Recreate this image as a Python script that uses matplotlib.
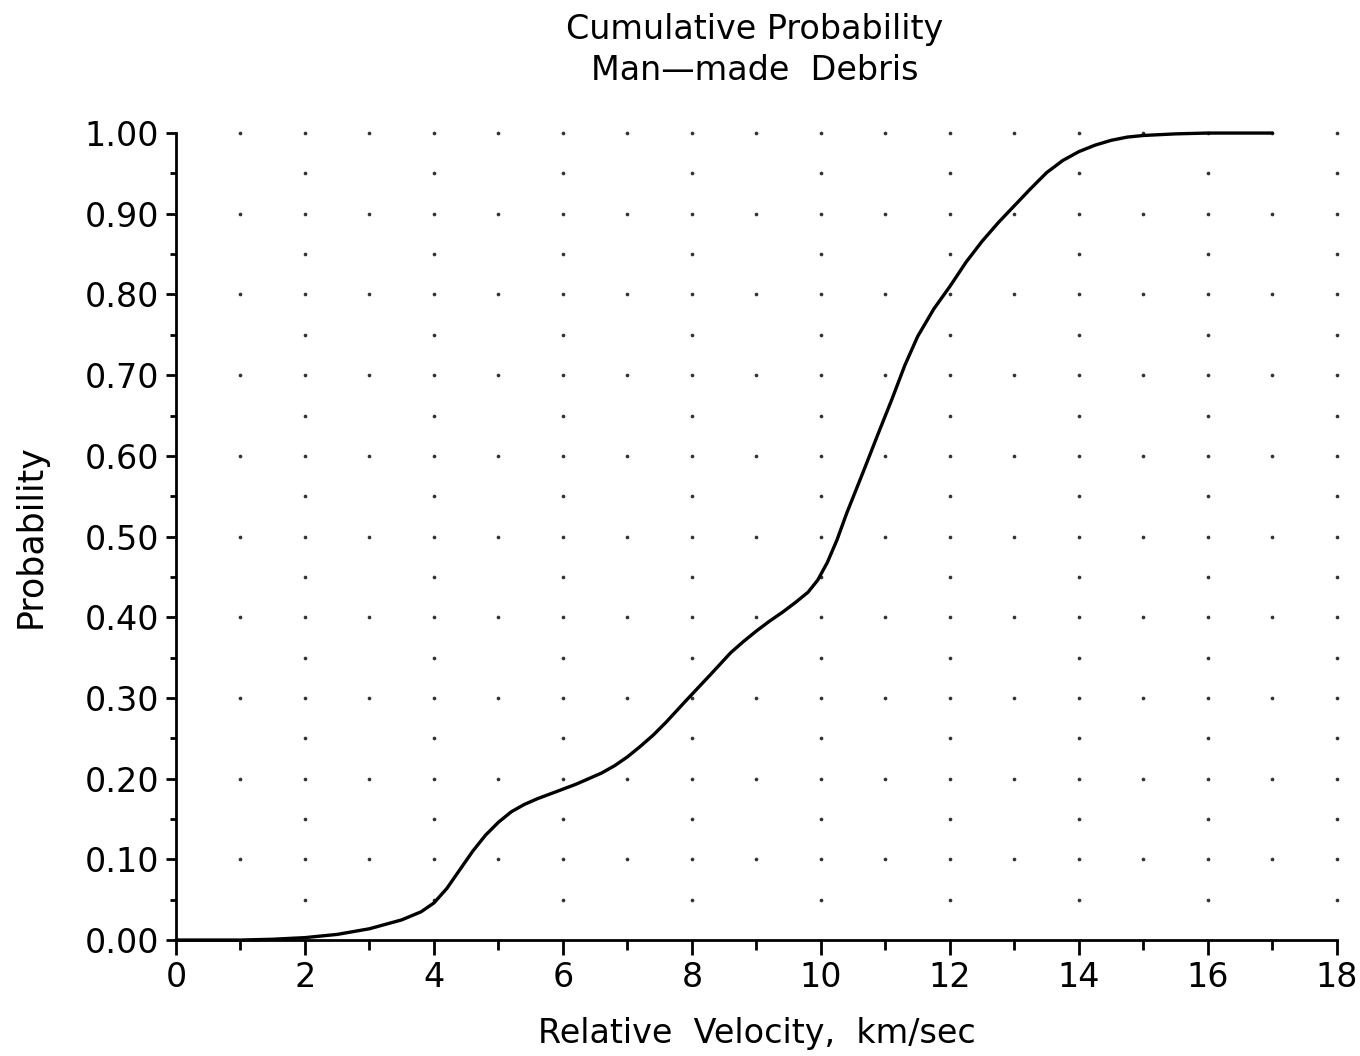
import matplotlib
matplotlib.use("Agg")
import matplotlib.pyplot as plt

# values
velocity = [0.0, 1.0, 1.5, 2.0, 2.5, 3.0, 3.5, 3.8, 4.0, 4.2, 4.4, 4.6, 4.8,
            5.0, 5.2, 5.4, 5.6, 5.8, 6.0, 6.2, 6.4, 6.6, 6.8, 7.0, 7.2, 7.4,
            7.6, 7.9, 8.3, 8.6, 8.8, 9.0, 9.2, 9.4, 9.6, 9.8, 9.95, 10.1,
            10.25, 10.4, 10.65, 10.9, 11.1, 11.3, 11.5, 11.75, 12.0, 12.25,
            12.5, 12.75, 13.0, 13.25, 13.5, 13.75, 14.0, 14.25, 14.5, 14.75,
            15.0, 15.5, 16.0, 17.0]
probability = [0.0, 0.0, 0.001, 0.003, 0.007, 0.014, 0.025, 0.035, 0.046,
               0.064, 0.087, 0.110, 0.130, 0.146, 0.159, 0.168, 0.175, 0.181,
               0.187, 0.193, 0.200, 0.207, 0.216, 0.227, 0.240, 0.254, 0.270,
               0.296, 0.330, 0.356, 0.370, 0.383, 0.395, 0.406, 0.418, 0.431,
               0.446, 0.468, 0.496, 0.529, 0.579, 0.630, 0.670, 0.712, 0.748,
               0.782, 0.810, 0.840, 0.866, 0.889, 0.910, 0.931, 0.951, 0.966,
               0.977, 0.985, 0.991, 0.995, 0.997, 0.999, 1.0, 1.0]

x_major = [0, 2, 4, 6, 8, 10, 12, 14, 16, 18]
x_minor = [1, 3, 5, 7, 9, 11, 13, 15, 17]
y_major = [0.0, 0.1, 0.2, 0.3, 0.4, 0.5, 0.6, 0.7, 0.8, 0.9, 1.0]
y_minor = [0.05, 0.15, 0.25, 0.35, 0.45, 0.55, 0.65, 0.75, 0.85, 0.95]

TITLE = "Cumulative Probability\nMan\u2014made  Debris"
XLABEL = "Relative  Velocity,  km/sec"
YLABEL = "Probability"


def _dot_grid():
    # even columns get a dot every 0.05, odd columns every 0.1
    xs, ys = [], []
    for xv in x_major[1:]:
        for yv in y_major[1:] + y_minor:
            xs.append(xv)
            ys.append(yv)
    for xv in x_minor:
        for yv in y_major[1:]:
            xs.append(xv)
            ys.append(yv)
    return xs, ys


def main():
    plt.rcParams["font.family"] = ["DejaVu Sans"]
    fig = plt.figure(figsize=(13.6, 10.56), dpi=100)
    ax = fig.add_axes([0.1294, 0.1098, 0.8536, 0.7642])

    gx, gy = _dot_grid()
    ax.scatter(gx, gy, s=7, color="#333333", linewidths=0, zorder=1,
               clip_on=False)

    ax.plot(velocity, probability, color="black", linewidth=2.4, zorder=3,
            clip_on=False, solid_capstyle="round", solid_joinstyle="round")

    ax.set_xlim(0, 18)
    ax.set_ylim(0, 1.0)

    for side in ("top", "right"):
        ax.spines[side].set_visible(False)
    for side in ("left", "bottom"):
        ax.spines[side].set_linewidth(2.0)

    ax.set_xticks(x_major)
    ax.set_xticks(x_minor, minor=True)
    ax.set_xticklabels([str(v) for v in x_major])
    ax.set_yticks(y_major)
    ax.set_yticks(y_minor, minor=True)
    ax.set_yticklabels([f"{v:.2f}" for v in y_major])

    ax.tick_params(axis="x", which="major", length=11, width=2, pad=4,
                   labelsize=24)
    ax.tick_params(axis="x", which="minor", length=7, width=2)
    ax.tick_params(axis="y", which="major", length=7, width=2, pad=5,
                   labelsize=24)
    ax.tick_params(axis="y", which="minor", length=4, width=2)

    ax.set_xlabel(XLABEL, fontsize=24, labelpad=17)
    ax.set_ylabel(YLABEL, fontsize=25, labelpad=27)

    fig.text(0.555, 0.953, TITLE, ha="center", va="center", fontsize=24,
             linespacing=1.3)

    fig.savefig("out.png", dpi=100, facecolor="white")
    plt.close(fig)


if __name__ == "__main__":
    main()
